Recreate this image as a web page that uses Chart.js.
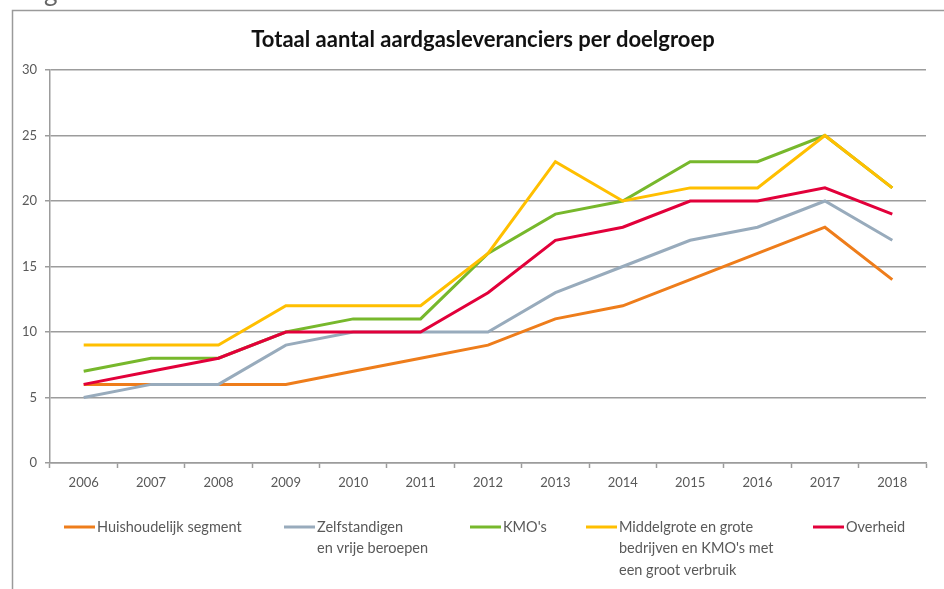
<!DOCTYPE html>
<html>
<head>
<meta charset="utf-8">
<script src="https://cdn.jsdelivr.net/npm/chart.js@4/dist/chart.umd.min.js"></script>
<style>
  body { margin: 0; background: #fff; }
  #wrap { width: 944px; height: 589px; position: relative; }
</style>
</head>
<body>
<div id="wrap"><canvas id="myChart"></canvas></div>
<script>
'use strict';

// data
let years = ['2006', '2007', '2008', '2009', '2010', '2011', '2012', '2013', '2014', '2015', '2016', '2017', '2018'];
let huishoudelijk = [6, 6, 6, 6, 7, 8, 9, 11, 12, 14, 16, 18, 14];
let zelfstandigen = [5, 6, 6, 9, 10, 10, 10, 13, 15, 17, 18, 20, 17];
let kmos = [7, 8, 8, 10, 11, 11, 16, 19, 20, 23, 23, 25, 21];
let middelgrote = [9, 9, 9, 12, 12, 12, 16, 23, 20, 21, 21, 25, 21];
let overheid = [6, 7, 8, 10, 10, 10, 13, 17, 18, 20, 20, 21, 19];

let seriesNames = [
    ['Huishoudelijk segment'],
    ['Zelfstandigen', 'en vrije beroepen'],
    ["KMO's"],
    ['Middelgrote en grote', "bedrijven en KMO's met", 'een groot verbruik'],
    ['Overheid']
];
let seriesColors = ['#ee7d1b', '#98abbc', '#77b82c', '#ffbf00', '#e2003a'];
let yMin = 0;
let yMax = 30;
let yStep = 5;

let chartTitle = 'Totaal aantal aardgasleveranciers per doelgroep';

// legend x positions (layout only)
let legendX = [64, 284, 470, 586, 813];

let textGrey = '#595959';
let lineGrey = '#9c9c9c';
let fontName = 'Lato, "Open Sans", sans-serif';

// frame, title and legend drawn on the canvas
let decorPlugin = {
    id: 'decor',
    beforeDraw(chart) {
        let ctx = chart.ctx;
        ctx.save();
        ctx.fillStyle = '#fff';
        ctx.fillRect(0, 0, chart.width, chart.height);
        // cut-off heading glyph above the frame
        ctx.fillStyle = '#666';
        ctx.font = '26px ' + fontName;
        ctx.textBaseline = 'alphabetic';
        ctx.fillText('g', 44, 1);
        ctx.strokeStyle = '#9a9a9a';
        ctx.lineWidth = 1.5;
        ctx.strokeRect(12.5, 10.5, 1000, 1000);
        ctx.restore();
    },
    afterDraw(chart) {
        let ctx = chart.ctx;
        ctx.save();
        ctx.fillStyle = '#111';
        ctx.font = 'bold 22px ' + fontName;
        ctx.textAlign = 'center';
        ctx.textBaseline = 'middle';
        ctx.fillText(chartTitle, 483, 40);

        ctx.font = '14.5px ' + fontName;
        ctx.textAlign = 'left';
        chart.data.datasets.forEach(function (ds, i) {
            let x = legendX[i];
            let y = 527;
            ctx.strokeStyle = ds.borderColor;
            ctx.lineWidth = 3;
            ctx.beginPath();
            ctx.moveTo(x, y);
            ctx.lineTo(x + 31, y);
            ctx.stroke();
            ctx.fillStyle = textGrey;
            seriesNames[i].forEach(function (line, j) {
                ctx.fillText(line, x + 33, y + j * 21.5);
            });
        });
        ctx.restore();
    }
};

function makeSet(idx, values, order) {
    return {
        label: seriesNames[idx].join(' '),
        data: values,
        borderColor: seriesColors[idx],
        backgroundColor: seriesColors[idx],
        borderWidth: 3,
        pointRadius: 0,
        tension: 0,
        fill: false,
        order: order
    };
}

function chartRender() {
    let ctx = document.getElementById('myChart').getContext('2d');
    let myChart = new Chart(ctx, {
        type: 'line',
        data: {
            labels: years,
            datasets: [
                makeSet(0, huishoudelijk, 4),
                makeSet(1, zelfstandigen, 3),
                makeSet(2, kmos, 2),
                makeSet(3, middelgrote, 1),
                makeSet(4, overheid, 0)
            ]
        },
        options: {
            responsive: true,
            maintainAspectRatio: false,
            animation: false,
            layout: {
                padding: { left: 0, right: 18, top: 70, bottom: 86 }
            },
            plugins: {
                legend: { display: false },
                title: { display: false },
                tooltip: { enabled: false }
            },
            scales: {
                x: {
                    offset: true,
                    grid: {
                        offset: true,
                        drawOnChartArea: false,
                        drawTicks: true,
                        tickLength: 5,
                        tickColor: lineGrey,
                        tickWidth: 1.5
                    },
                    border: { color: lineGrey, width: 1.5 },
                    ticks: {
                        color: textGrey,
                        font: { family: fontName, size: 13 },
                        padding: 7,
                        maxRotation: 0
                    },
                    afterFit: function (scale) { scale.height = 40; }
                },
                y: {
                    min: yMin,
                    max: yMax,
                    grid: {
                        color: lineGrey,
                        lineWidth: 1.5,
                        drawTicks: true,
                        tickLength: 5,
                        tickColor: lineGrey
                    },
                    border: { color: lineGrey, width: 1.5 },
                    ticks: {
                        stepSize: yStep,
                        color: textGrey,
                        font: { family: fontName, size: 13 },
                        padding: 8
                    },
                    afterFit: function (scale) { scale.width = 50; }
                }
            }
        },
        plugins: [decorPlugin]
    });
}

chartRender();
</script>
</body>
</html>
